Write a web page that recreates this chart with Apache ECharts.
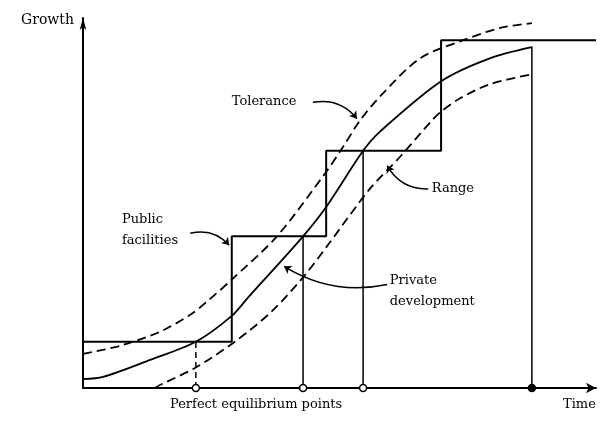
<!DOCTYPE html>
<html>
<head>
<meta charset="utf-8">
<script src="https://cdn.jsdelivr.net/npm/echarts@6.0.0/dist/echarts.min.js"></script>
<style>
  html, body { margin: 0; padding: 0; background: #fff; }
  #main { width: 605px; height: 424px; }
</style>
</head>
<body>
<div id="main"></div>
<script>
// Public facilities staircase (time, growth)
let stepX = [0, 29, 29, 47.4, 47.4, 69.8, 69.8, 100];
let stepY = [12.5, 12.5, 41, 41, 64.1, 64.1, 94, 94];

// Private development curve
let developX = [0, 3.9, 13.1, 22, 29, 32.2, 42.9, 47.4, 54.6, 57.9, 69.8, 79.3, 87.5];
let developY = [2.4, 3.0, 7.6, 12.5, 19.5, 24.5, 41, 48.9, 64.1, 69.3, 82.9, 89.1, 92.1];

// Tolerance (upper dashed)
let toleranceX = [0, 7.2, 15, 20.9, 24.2, 29, 37.8, 47.4, 50.7, 54, 57.9, 65.7, 74.1, 81.3, 87.5];
let toleranceY = [9.2, 11.4, 15.2, 19.8, 23.4, 29.3, 41, 58.4, 65.2, 72.3, 78.8, 89.1, 94, 97.3, 98.6];

// Range (lower dashed)
let rangeX = [14, 15, 21.8, 29.6, 36.8, 42.9, 47.4, 55.9, 61.8, 68, 69.8, 73.5, 79.3, 87.5];
let rangeY = [0, 0.8, 5.4, 12.5, 20.7, 29.9, 38, 53.8, 62.5, 72.3, 74.7, 78.3, 82.1, 84.8];

// Perfect equilibrium points
let equilibriumX = [22, 42.9, 54.6, 87.5];
let equilibriumTop = [12.5, 41, 64.1, 92.3];

// Annotation labels and their arrows
let labelPos = [[29, 77.4], [68, 53.8], [7.6, 42.7], [59.8, 26.1]];
let labelText = ['Tolerance', 'Range', 'Public\nfacilities', 'Private\ndevelopment'];
let arrowFrom = [[44.8, 77.2], [67.3, 53.8], [20.9, 41.8], [59.3, 28.0]];
let arrowTo = [[53.4, 72.8], [59.3, 60.1], [28.5, 38.6], [39.2, 32.9]];
let arrowBend = [0.3, 0.3, 0.3, 0.2];

const FONT = 'DejaVu Serif';

function zip(xs, ys) {
    return xs.map((x, i) => [x, ys[i]]);
}

function drawChart() {
    let myChart = echarts.init(document.getElementById('main'));

    let series = [];

    // staircase of public facilities
    series.push({
        type: 'line', data: zip(stepX, stepY), symbol: 'none',
        lineStyle: { color: '#000', width: 2 }
    });
    // curves
    series.push({
        type: 'line', data: zip(developX, developY), symbol: 'none', smooth: 0.3,
        lineStyle: { color: '#000', width: 1.8 }
    });
    series.push({
        type: 'line', data: zip(toleranceX, toleranceY), symbol: 'none', smooth: 0.3,
        lineStyle: { color: '#000', width: 1.8, type: [9, 5] }
    });
    series.push({
        type: 'line', data: zip(rangeX, rangeY), symbol: 'none', smooth: 0.3,
        lineStyle: { color: '#000', width: 1.8, type: [9, 5] }
    });

    // drop lines from equilibrium points
    for (let i = 0; i < equilibriumX.length; i++) {
        series.push({
            type: 'line', symbol: 'none',
            data: [[equilibriumX[i], 0], [equilibriumX[i], equilibriumTop[i]]],
            lineStyle: { color: '#000', width: 1.5, type: i === 0 ? [6, 4] : 'solid' }
        });
    }

    // circles on the time axis
    series.push({
        type: 'scatter', clip: false, z: 5, symbolSize: 7,
        data: equilibriumX.map((x, i) => ({
            value: [x, 0],
            itemStyle: { color: i === equilibriumX.length - 1 ? '#000' : '#fff' }
        })),
        itemStyle: { borderColor: '#000', borderWidth: 1.5, opacity: 1 }
    });

    // annotation arrows
    series.push({
        type: 'lines', coordinateSystem: 'cartesian2d', z: 4,
        symbol: ['none', 'arrow'], symbolSize: 7,
        data: arrowFrom.map((p, i) => ({
            coords: [p, arrowTo[i]],
            lineStyle: { curveness: arrowBend[i] }
        })),
        lineStyle: { color: '#000', width: 1.5, opacity: 1 }
    });

    // annotation texts
    series.push({
        type: 'scatter', symbolSize: 0, clip: false, z: 6,
        itemStyle: { opacity: 1 },
        data: labelPos.map((p, i) => ({ value: p, name: labelText[i] })),
        label: {
            show: true, position: 'right', distance: 0, opacity: 1,
            formatter: p => p.name,
            fontFamily: FONT, fontSize: 13, color: '#000', lineHeight: 21, align: 'left'
        }
    });

    let option = {
        animation: false,
        backgroundColor: '#fff',
        grid: { left: 83, right: 9, top: 18, bottom: 36 },
        xAxis: {
            type: 'value', min: 0, max: 100,
            axisLine: { lineStyle: { color: '#000', width: 2 }, symbol: ['none', 'arrow'], symbolSize: [8, 10] },
            axisTick: { show: false }, axisLabel: { show: false }, splitLine: { show: false }
        },
        yAxis: {
            type: 'value', min: 0, max: 100,
            axisLine: { lineStyle: { color: '#000', width: 2 }, symbol: ['none', 'arrow'], symbolSize: [5, 12] },
            axisTick: { show: false }, axisLabel: { show: false }, splitLine: { show: false }
        },
        graphic: [
            { type: 'text', right: 605 - 74, top: 13, style: { text: 'Growth', font: '14px "DejaVu Serif"', fill: '#000' } },
            { type: 'text', left: 170, top: 398, style: { text: 'Perfect equilibrium points', font: '13px "DejaVu Serif"', fill: '#000' } },
            { type: 'text', left: 563, top: 398, style: { text: 'Time', font: '13px "DejaVu Serif"', fill: '#000' } }
        ],
        series: series
    };
    myChart.setOption(option);
}

drawChart();
</script>
</body>
</html>
